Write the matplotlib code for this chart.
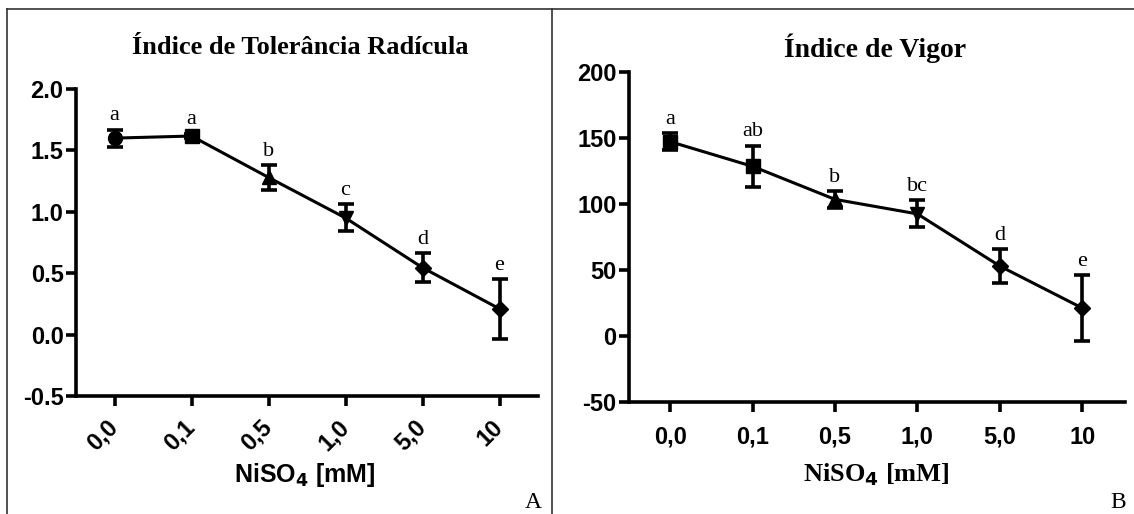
import numpy as np
import matplotlib
matplotlib.use("Agg")
import matplotlib.pyplot as plt
from matplotlib.lines import Line2D

plt.rcParams["axes.unicode_minus"] = False

SANS = "Liberation Sans"
SERIF = "Liberation Serif"

# ── data ─────────────────────────────────────────────────────────────────────
doses = ["0,0", "0,1", "0,5", "1,0", "5,0", "10"]

tol_mean = [1.60, 1.617, 1.28, 0.95, 0.545, 0.21]
tol_err = [0.07, 0.02, 0.10, 0.11, 0.12, 0.245]
tol_letters = ["a", "a", "b", "c", "d", "e"]
tol_markers = ["o", "s", "^", "v", "D", "D"]

vig_mean = [147.2, 128.5, 103.5, 92.5, 53.0, 21.2]
vig_err = [6.5, 15.8, 6.3, 10.3, 13.0, 24.7]
vig_letters = ["a", "ab", "b", "bc", "d", "e"]
vig_markers = ["s", "s", "^", "v", "D", "D"]

fig = plt.figure(figsize=(11.34, 5.14), dpi=100)

# panel frame
for xs, ys in [([7/1134, 1], [1-9/514, 1-9/514]),
               ([7/1134, 7/1134], [0, 1-9/514]),
               ([552/1134, 552/1134], [0, 1-9/514])]:
    fig.add_artist(Line2D(xs, ys, transform=fig.transFigure, color="#333", lw=1.2))


def panel(ax, mean, err, letters, markers, ylim, yticks, fs_tick):
    x = np.arange(len(mean))
    ax.plot(x, mean, color="black", lw=2.2, zorder=2)
    ax.errorbar(x, mean, yerr=err, fmt="none", ecolor="black", elinewidth=2.6,
                capsize=6, capthick=2.6, zorder=3)
    for xi, yi, m in zip(x, mean, markers):
        ax.plot(xi, yi, marker=m, color="black", ms=10 if m != "D" else 8, zorder=4)
    for xi, yi, e, lab in zip(x, mean, err, letters):
        ax.annotate(lab, (xi, yi + e), xytext=(0, 3), textcoords="offset points",
                    ha="center", va="bottom", fontsize=16, family=SERIF)
    ax.set_xlim(-0.5, 5.5)
    ax.set_ylim(*ylim)
    ax.set_yticks(yticks)
    ax.set_xticks(x)
    for s in ["top", "right"]:
        ax.spines[s].set_visible(False)
    for s in ["left", "bottom"]:
        ax.spines[s].set_linewidth(2.6)
    ax.tick_params(width=2.6, length=7, labelsize=fs_tick, pad=2)
    for t in ax.get_yticklabels():
        t.set_fontfamily(SANS)
        t.set_fontweight("bold")


# ── A: tolerance index ───────────────────────────────────────────────────────
axA = fig.add_axes([76/1134, 1-396/514, 462/1134, 307/514])
panel(axA, tol_mean, tol_err, tol_letters, tol_markers, (-0.5, 2.0),
      [-0.5, 0.0, 0.5, 1.0, 1.5, 2.0], 17)
axA.set_yticklabels([f"{v:.1f}" for v in axA.get_yticks()])
axA.set_xticklabels(doses, rotation=45, ha="right", va="center",
                    rotation_mode="anchor", fontfamily=SANS, fontweight="bold")
axA.tick_params(axis="x", pad=13)
fig.text(300/1134, 1-54/514, "Índice de Tolerância Radícula", ha="center",
         va="baseline", fontsize=19, fontweight="bold", family=SERIF)
fig.text(305/1134, 1-482/514, "NiSO$_\\mathbf{4}$ [mM]", ha="center", va="baseline",
         fontsize=18, fontweight="bold", family=SANS)
fig.text(533/1134, 1-508/514, "A", ha="center", va="baseline", fontsize=17, family=SERIF)

# ── B: vigor index ───────────────────────────────────────────────────────────
axB = fig.add_axes([629/1134, 1-402/514, 496/1134, 330/514])
panel(axB, vig_mean, vig_err, vig_letters, vig_markers, (-50, 200),
      [-50, 0, 50, 100, 150, 200], 17)
axB.set_xlim(-0.5, 5.52)
axB.set_xticklabels(doses, fontfamily=SANS, fontweight="bold")
axB.tick_params(axis="x", pad=10)
fig.text(875/1134, 1-57/514, "Índice de Vigor", ha="center",
         va="baseline", fontsize=20, fontweight="bold", family=SERIF)
fig.text(876/1134, 1-482/514, "NiSO$_\\mathbf{4}$ [mM]", ha="center", va="baseline",
         fontsize=19, fontweight="bold", family=SERIF)
fig.text(1118/1134, 1-508/514, "B", ha="center", va="baseline", fontsize=17, family=SERIF)

fig.savefig("out.png", dpi=100)
